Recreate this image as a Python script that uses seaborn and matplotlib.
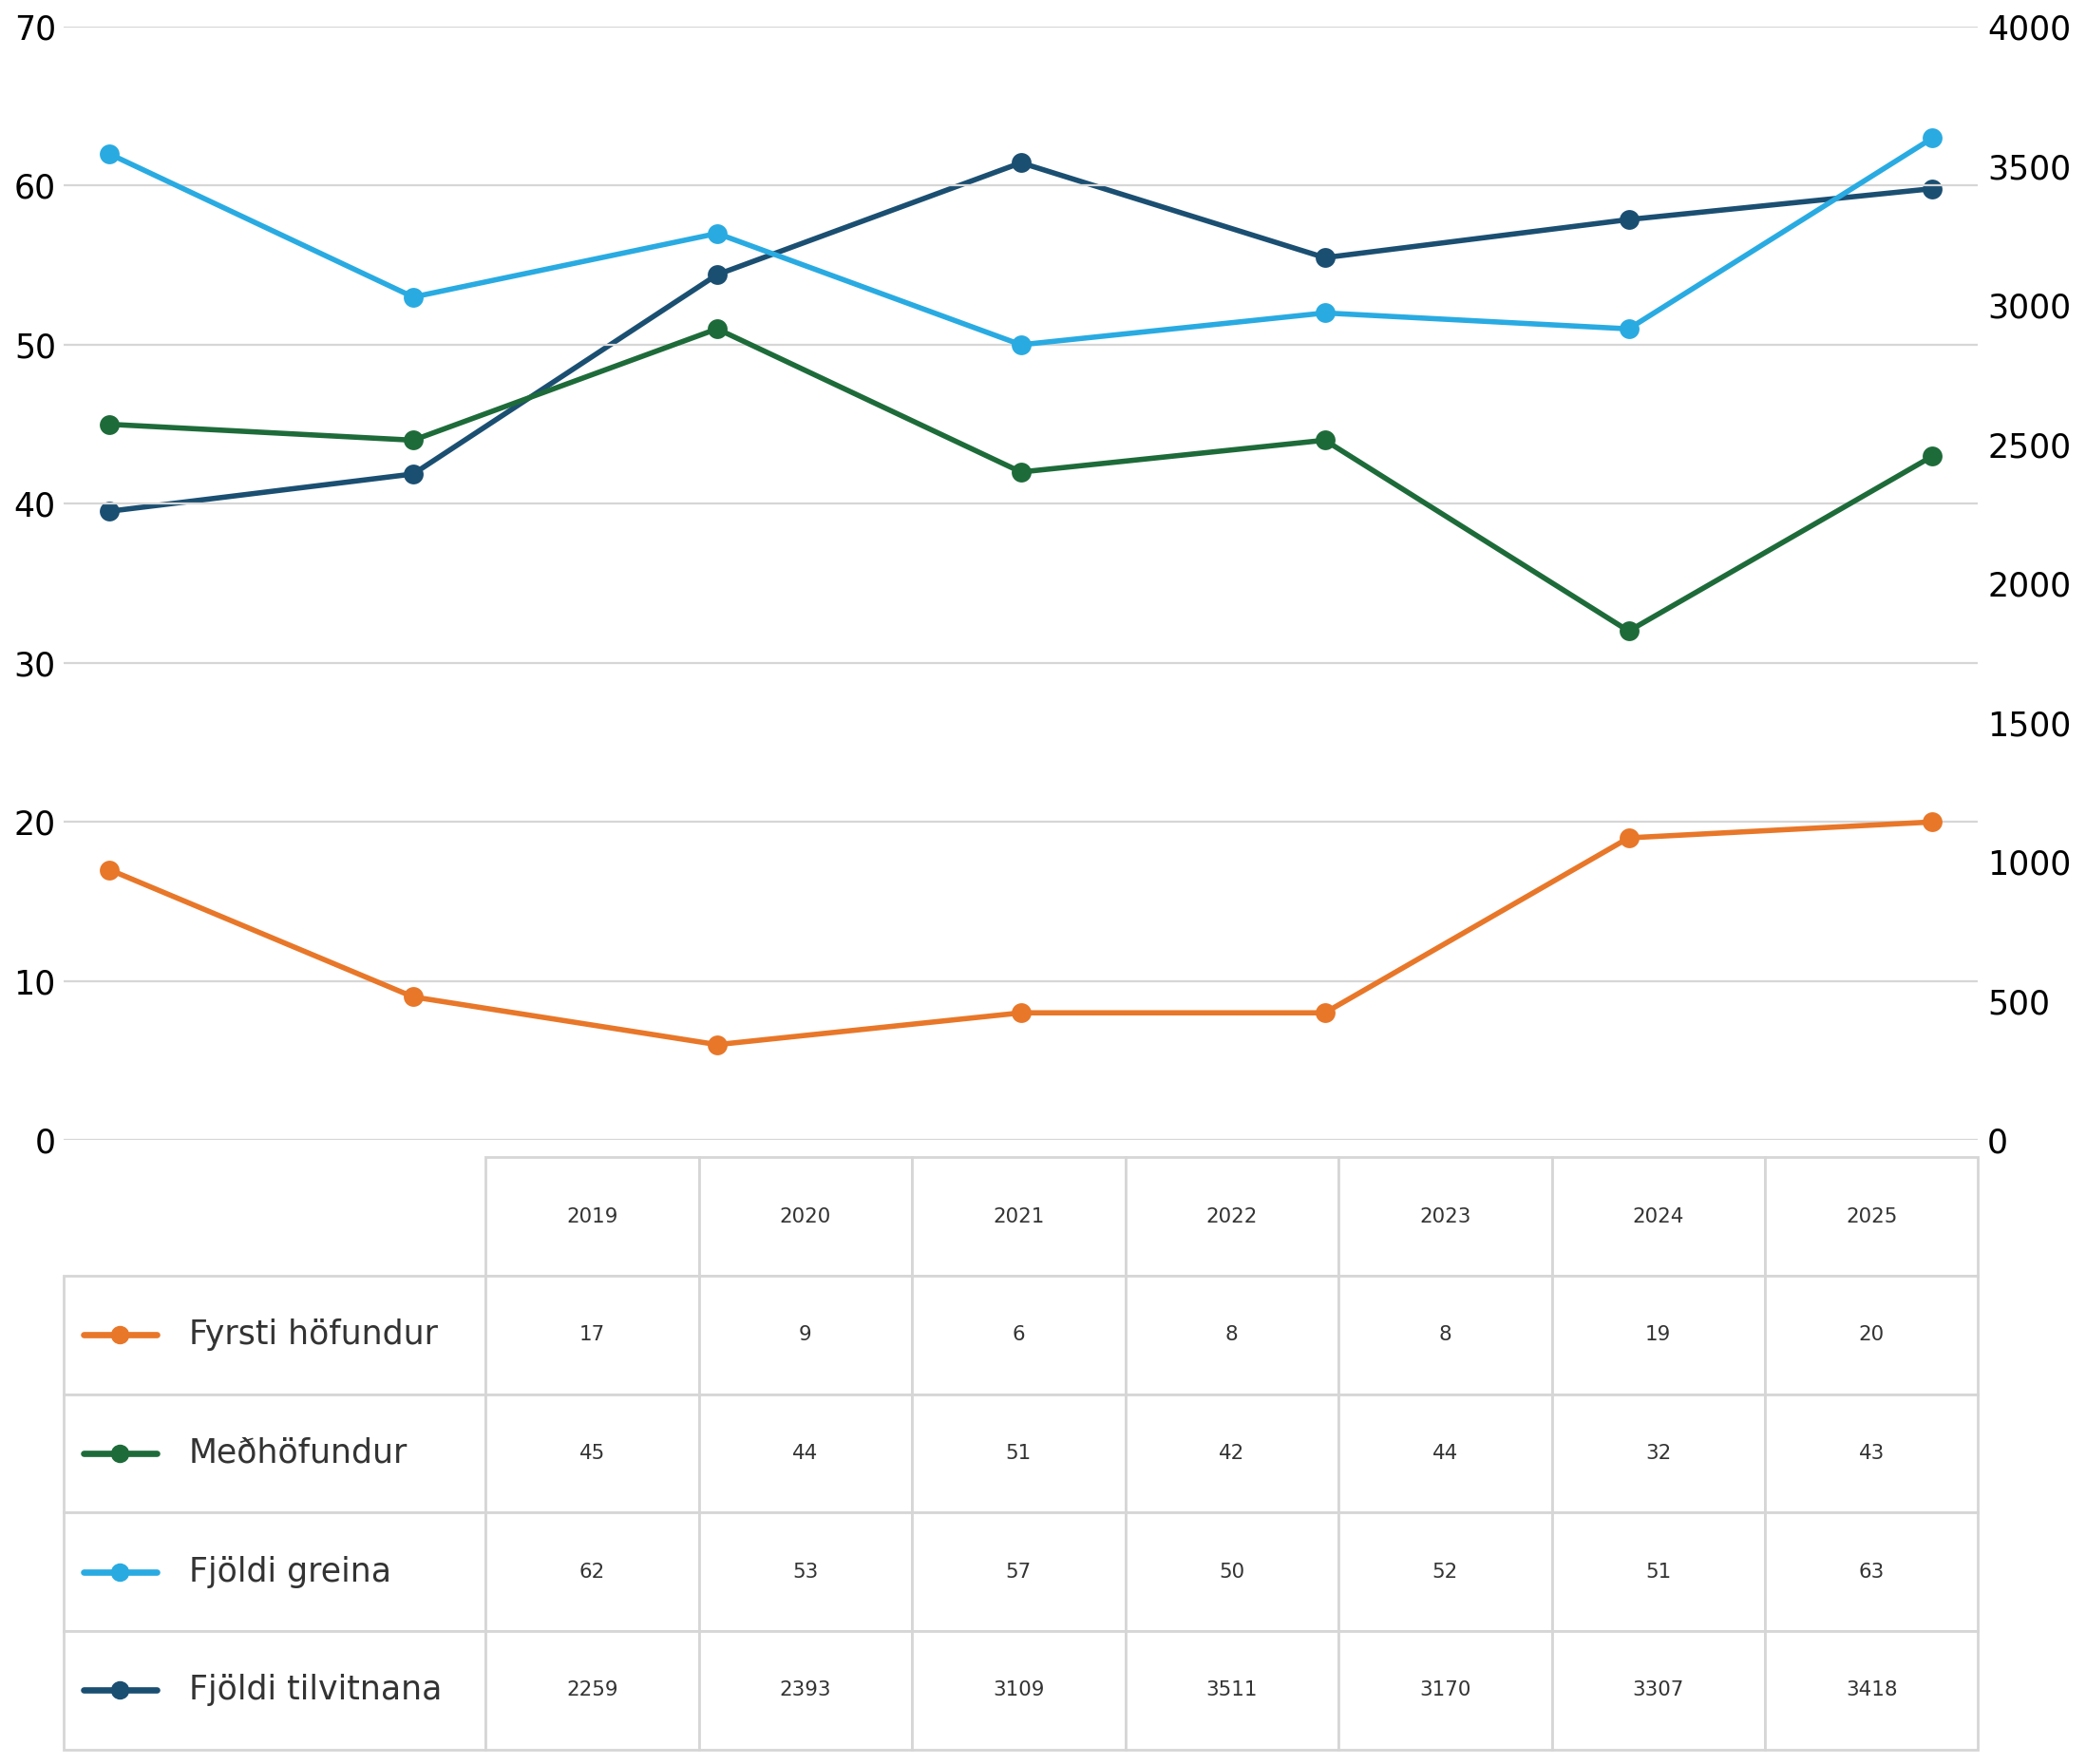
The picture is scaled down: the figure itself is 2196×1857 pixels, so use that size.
import matplotlib
matplotlib.use("Agg")
import matplotlib.pyplot as plt
import seaborn as sns
import pandas as pd

sns.set_style("white")
plt.rcParams['font.family'] = ['DejaVu Sans']

years = [2019, 2020, 2021, 2022, 2023, 2024, 2025]
fyrsti = [17, 9, 6, 8, 8, 19, 20]
medhof = [45, 44, 51, 42, 44, 32, 43]
greina = [62, 53, 57, 50, 52, 51, 63]
tilvitnanir = [2259, 2393, 3109, 3511, 3170, 3307, 3418]

labels = ['Fyrsti höfundur', 'Meðhöfundur', 'Fjöldi greina', 'Fjöldi tilvitnana']
colors = ['#e87729', '#1e6b3a', '#29abe2', '#1b4f72']
series = [fyrsti, medhof, greina, tilvitnanir]

df = pd.DataFrame({'year': years, 'fyrsti': fyrsti, 'medhof': medhof,
                   'greina': greina, 'tilv': tilvitnanir})

fig = plt.figure(figsize=(10.98, 9.285), dpi=200)
ax = fig.add_axes([0.0306, 0.3537, 0.9177, 0.6312])
ax2 = ax.twinx()
# left axis lines on top of the right one
ax.set_zorder(ax2.get_zorder() + 1)
ax.patch.set_visible(False)

lw = 2.0
ms = 7.5
sns.lineplot(data=df, x='year', y='tilv', color=colors[3], marker='o', markersize=ms,
             markeredgewidth=0, linewidth=lw, ax=ax2)
for col, c in zip(['fyrsti', 'medhof', 'greina'], colors[:3]):
    sns.lineplot(data=df, x='year', y=col, color=c, marker='o', markersize=ms,
                 markeredgewidth=0, linewidth=lw, ax=ax)

ax.set_ylim(0, 70)
ax.set_yticks(range(0, 71, 10))
ax2.set_ylim(0, 4000)
ax2.set_yticks(range(0, 4001, 500))
ax.set_xlim(2018.85, 2025.15)
ax.set_xticks([])
ax.set_xlabel('')
ax.set_ylabel('')
ax2.set_ylabel('')
ax.grid(axis='y', color='#d6d6d6', linewidth=0.8)
for a in (ax, ax2):
    for s in a.spines.values():
        s.set_visible(False)
ax.tick_params(axis='y', length=0, labelsize=12.5, pad=3, labelcolor='black')
ax2.tick_params(axis='y', length=0, labelsize=12.5, pad=3.5, labelcolor='black')

# table below
axt = fig.add_axes([0.0306, 0.0083, 0.9177, 0.3356])
axt.axis('off')
cell_text = [[''] + [str(y) for y in years]]
for s in series:
    cell_text.append([''] + [str(v) for v in s])
first_w = 317 / 1439
col_w = [first_w] + [(1 - first_w) / 7] * 7
tbl = axt.table(cellText=cell_text, colWidths=col_w, bbox=[0, 0, 1, 1], cellLoc='center')
tbl.auto_set_font_size(False)
tbl.set_fontsize(7.7)
for (r, c), cell in tbl.get_celld().items():
    cell.set_edgecolor('#d6d6d6')
    cell.set_linewidth(1.0)
    cell.get_text().set_color('#333333')
    if r == 0 and c == 0:
        cell.visible_edges = ''

nrows = len(cell_text)
for i, (lab, c) in enumerate(zip(labels, colors)):
    yc = 1 - (i + 1.5) / nrows
    axt.plot([0.0104, 0.0486], [yc, yc], color=c, linewidth=2.4,
             transform=axt.transAxes, clip_on=False)
    axt.plot([0.0292], [yc], 'o', color=c, markersize=6,
             transform=axt.transAxes, clip_on=False)
    axt.text(0.0653, yc, lab, transform=axt.transAxes, va='center', ha='left',
             fontsize=12.5, color='#333333')

fig.savefig('out.png', dpi=200)
